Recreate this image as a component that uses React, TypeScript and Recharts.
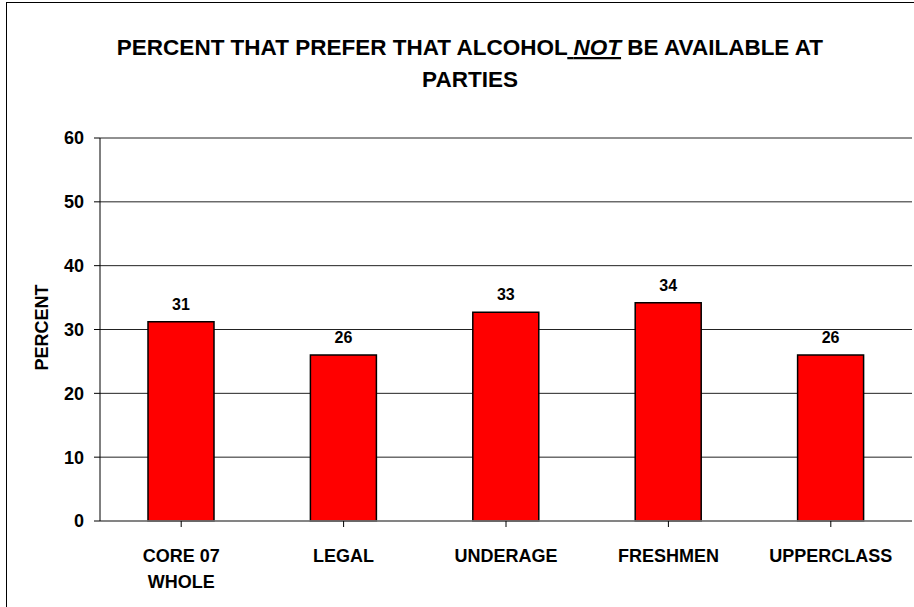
import React from "react";
import { BarChart, Bar, XAxis, YAxis, CartesianGrid, LabelList } from "recharts";

const categories = ["CORE 07|WHOLE", "LEGAL", "UNDERAGE", "FRESHMEN", "UPPERCLASS"];
const percentValues = [31.2, 26.0, 32.7, 34.2, 26.0];
const percentLabels = ["31", "26", "33", "34", "26"];
const yTicks = [0, 10, 20, 30, 40, 50, 60];

const data = categories.map((c, i) => ({
  name: c,
  value: percentValues[i],
  label: percentLabels[i],
}));

const FONT = "'Liberation Sans', Arial, sans-serif";

const XTick = (props: any) => {
  const { x, y, payload } = props;
  const lines = String(payload.value).split("|");
  return (
    <g>
      {lines.map((ln, i) => (
        <text
          key={i}
          x={x}
          y={y + 33 + i * 26}
          textAnchor="middle"
          fontFamily={FONT}
          fontWeight="bold"
          fontSize={18}
          fill="#000"
        >
          {ln}
        </text>
      ))}
    </g>
  );
};

export default function App() {
  return (
    <div
      style={{
        position: "absolute",
        left: 0,
        top: 0,
        width: 914,
        height: 607,
        overflow: "hidden",
        background: "#fff",
      }}
    >
      <div
        style={{
          position: "absolute",
          left: 6,
          top: 2,
          width: 1000,
          height: 1000,
          border: "1px solid #000",
        }}
      />
      <svg
        width={914}
        height={120}
        style={{ position: "absolute", left: 0, top: 0 }}
      >
        <text
          x={470}
          y={55}
          textAnchor="middle"
          fontFamily={FONT}
          fontWeight="bold"
          fontSize={22.5}
          fill="#000"
        >
          PERCENT THAT PREFER THAT ALCOHOL
          <tspan textDecoration="underline"> </tspan>
          <tspan fontStyle="italic" textDecoration="underline">NOT</tspan>
          {" BE AVAILABLE AT"}
        </text>
        <text
          x={470}
          y={87}
          textAnchor="middle"
          fontFamily={FONT}
          fontWeight="bold"
          fontSize={22.5}
          fill="#000"
        >
          PARTIES
        </text>
      </svg>
      <div style={{ position: "absolute", left: 0, top: 0 }}>
        <BarChart
          width={914}
          height={607}
          data={data}
          margin={{ top: 138, right: 2, bottom: 0, left: 0 }}
          barSize={66}
        >
          <CartesianGrid vertical={false} stroke="#222" strokeWidth={1} />
          <XAxis
            dataKey="name"
            tick={<XTick />}
            tickSize={6}
            axisLine={{ stroke: "#808080", strokeWidth: 1.5 }}
            tickLine={{ stroke: "#000" }}
            interval={0}
            height={86}
          />
          <YAxis
            width={100}
            domain={[0, 60]}
            ticks={yTicks}
            tickSize={6}
            tickMargin={10}
            axisLine={{ stroke: "#000" }}
            tickLine={{ stroke: "#000" }}
            tick={{ fontFamily: FONT, fontWeight: "bold", fontSize: 18, fill: "#000" }}
            label={{
              value: "PERCENT",
              angle: -90,
              position: "insideLeft",
              dx: 37,
              dy: -2,
              style: {
                fontFamily: FONT,
                fontWeight: "bold",
                fontSize: 18,
                fill: "#000",
                textAnchor: "middle",
              },
            }}
          />
          <Bar dataKey="value" fill="#FF0000" stroke="#000" strokeWidth={1.5} isAnimationActive={false}>
            <LabelList
              dataKey="label"
              position="top"
              offset={12}
              style={{ fontFamily: FONT, fontWeight: "bold", fontSize: 16, fill: "#000" }}
            />
          </Bar>
        </BarChart>
      </div>
    </div>
  );
}
